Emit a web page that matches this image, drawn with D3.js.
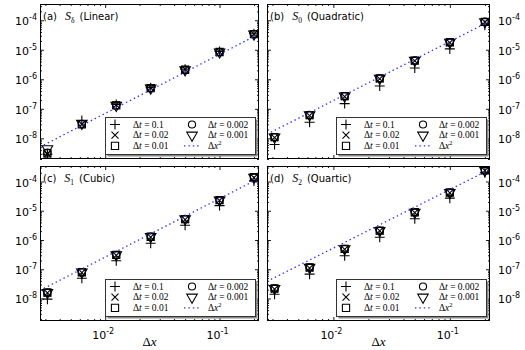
<!DOCTYPE html>
<html>
<head>
<meta charset="utf-8">
<script src="https://cdn.jsdelivr.net/npm/d3@7"></script>
<style>
  body { margin: 0; background: #fff; }
  svg { display: block; }
</style>
</head>
<body>
<svg id="chart" width="525" height="350"></svg>
<script>
// ======== Data ========
const dx = [0.003125, 0.00625, 0.0125, 0.025, 0.05, 0.1, 0.2];
const dtValues = ['0.1', '0.02', '0.01', '0.002', '0.001'];
const markerTypes = ['plus', 'cross', 'square', 'circle', 'triangle'];

// rows = dt (0.1, 0.02, 0.01, 0.002, 0.001), columns = dx
const errLinear = [
    [2.9e-9, 4.0e-8, 1.40e-7, 5.2e-7, 2.20e-6, 8.7e-6, 3.5e-5],
    [3.0e-9, 3.0e-8, 1.35e-7, 5.1e-7, 2.15e-6, 8.5e-6, 3.4e-5],
    [3.1e-9, 3.0e-8, 1.30e-7, 5.0e-7, 2.10e-6, 8.4e-6, 3.4e-5],
    [3.3e-9, 3.1e-8, 1.30e-7, 5.0e-7, 2.10e-6, 8.4e-6, 3.4e-5],
    [4.4e-9, 3.2e-8, 1.30e-7, 5.0e-7, 2.10e-6, 8.4e-6, 3.4e-5]
];
const errQuadratic = [
    [6.2e-9, 3.5e-8, 1.5e-7, 5.9e-7, 2.40e-6, 1.07e-5, 6.8e-5],
    [1.05e-8, 5.9e-8, 2.6e-7, 1.04e-6, 4.20e-6, 1.75e-5, 8.6e-5],
    [1.1e-8, 6.1e-8, 2.7e-7, 1.07e-6, 4.30e-6, 1.80e-5, 8.8e-5],
    [1.1e-8, 6.2e-8, 2.7e-7, 1.08e-6, 4.35e-6, 1.80e-5, 8.9e-5],
    [1.1e-8, 6.2e-8, 2.7e-7, 1.08e-6, 4.35e-6, 1.80e-5, 8.9e-5]
];
const errCubic = [
    [9.5e-9, 4.9e-8, 1.95e-7, 7.7e-7, 3.20e-6, 1.50e-5, 1.05e-4],
    [1.55e-8, 7.7e-8, 3.0e-7, 1.25e-6, 5.00e-6, 2.25e-5, 1.35e-4],
    [1.6e-8, 7.9e-8, 3.1e-7, 1.29e-6, 5.20e-6, 2.30e-5, 1.40e-4],
    [1.6e-8, 8.0e-8, 3.1e-7, 1.30e-6, 5.25e-6, 2.30e-5, 1.40e-4],
    [1.6e-8, 8.0e-8, 3.1e-7, 1.30e-6, 5.25e-6, 2.30e-5, 1.40e-4]
];
const errQuartic = [
    [1.4e-8, 6.8e-8, 2.9e-7, 1.24e-6, 5.3e-6, 2.7e-5, 2.00e-4],
    [2.1e-8, 1.10e-7, 4.8e-7, 2.05e-6, 8.7e-6, 4.1e-5, 2.35e-4],
    [2.2e-8, 1.15e-7, 5.0e-7, 2.10e-6, 8.9e-6, 4.2e-5, 2.40e-4],
    [2.2e-8, 1.15e-7, 5.0e-7, 2.10e-6, 8.9e-6, 4.2e-5, 2.40e-4],
    [2.2e-8, 1.15e-7, 5.0e-7, 2.10e-6, 8.9e-6, 4.2e-5, 2.40e-4]
];

// coefficient C of the reference line C * dx^2
const refCoef = [7.0e-4, 1.9e-3, 2.6e-3, 5.3e-3];

const panelTags = ['(a)', '(b)', '(c)', '(d)'];
const panelSubs = ['δ', '0', '1', '2'];
const panelNames = ['(Linear)', '(Quadratic)', '(Cubic)', '(Quartic)'];

const xLimits = [Math.pow(10, -2.57), Math.pow(10, -0.655)];
const yLimitsTop = [Math.pow(10, -8.7), Math.pow(10, -3.45)];
const yLimitsBottom = [Math.pow(10, -8.77), Math.pow(10, -3.47)];

// ======== Layout ========
const panels = [
    {err: errLinear,    x0: 40,  x1: 259, y0: 4,   y1: 159, right: false, xlab: false, ylim: yLimitsTop},
    {err: errQuadratic, x0: 267, x1: 490, y0: 4,   y1: 159, right: true,  xlab: false, ylim: yLimitsTop},
    {err: errCubic,     x0: 40,  x1: 259, y0: 166, y1: 321, right: false, xlab: true,  ylim: yLimitsBottom},
    {err: errQuartic,   x0: 267, x1: 490, y0: 166, y1: 321, right: true,  xlab: true,  ylim: yLimitsBottom}
];

const svg = d3.select('#chart');
const sansFont = 'DejaVu Sans, sans-serif';
const serifFont = 'Liberation Serif, DejaVu Serif, serif';

function markerPath(type) {
    if (type === 'plus') return 'M-5,0H5M0,-5V5';
    if (type === 'cross') return 'M-3.5,-3.5L3.5,3.5M-3.5,3.5L3.5,-3.5';
    if (type === 'square') return 'M-3.6,-3.6H3.6V3.6H-3.6Z';
    if (type === 'circle') return d3.symbol().type(d3.symbolCircle).size(40)();
    return d3.symbol().type(d3.symbolTriangle).size(48)();
}

function drawMarker(g, type, x, y) {
    g.append('path')
        .attr('d', markerPath(type))
        .attr('transform', 'translate(' + x + ',' + y + ')' + (type === 'triangle' ? ' rotate(180)' : ''))
        .attr('fill', 'none')
        .attr('stroke', '#000')
        .attr('stroke-width', 1.1);
}

function decadeLabel(sel, exp) {
    sel.append('tspan').text('10');
    sel.append('tspan').attr('font-size', 8).attr('dy', -5).text('-' + Math.abs(exp));
}

panels.forEach(function (p, pi) {
    const x = d3.scaleLog().domain(xLimits).range([p.x0, p.x1]);
    const y = d3.scaleLog().domain(p.ylim).range([p.y1, p.y0]);
    const g = svg.append('g');

    const clipId = 'clip' + pi;
    g.append('clipPath').attr('id', clipId)
        .append('rect')
        .attr('x', p.x0).attr('y', p.y0)
        .attr('width', p.x1 - p.x0).attr('height', p.y1 - p.y0);

    // ---- ticks (inward, all four sides) ----
    const xAll = x.ticks(20);
    const xMajor = xAll.filter(v => Math.abs(Math.log10(v) - Math.round(Math.log10(v))) < 1e-6);
    const xMinor = xAll.filter(v => xMajor.indexOf(v) < 0);
    const yAll = y.ticks(40);
    const yMajor = yAll.filter(v => Math.abs(Math.log10(v) - Math.round(Math.log10(v))) < 1e-6);
    const yMinor = yAll.filter(v => yMajor.indexOf(v) < 0);

    const axes = [
        [d3.axisBottom, x, 'translate(0,' + p.y1 + ')', xMajor, xMinor],
        [d3.axisTop, x, 'translate(0,' + p.y0 + ')', xMajor, xMinor],
        [d3.axisLeft, y, 'translate(' + p.x0 + ',0)', yMajor, yMinor],
        [d3.axisRight, y, 'translate(' + p.x1 + ',0)', yMajor, yMinor]
    ];
    axes.forEach(function (a) {
        [[a[3], 4], [a[4], 2]].forEach(function (t) {
            const ax = g.append('g')
                .attr('transform', a[2])
                .call(a[0](a[1]).tickValues(t[0]).tickSize(-t[1]).tickFormat(''));
            ax.select('.domain').remove();
            ax.selectAll('line').attr('stroke', '#000').attr('stroke-width', 0.9);
        });
    });

    // ---- y tick labels ----
    yMajor.forEach(function (v) {
        const t = g.append('text')
            .attr('x', p.right ? p.x1 + 8 : p.x0 - 3)
            .attr('y', y(v) + 5)
            .attr('text-anchor', p.right ? 'start' : 'end')
            .attr('font-family', sansFont)
            .attr('font-size', 11)
            .attr('fill', '#000');
        decadeLabel(t, Math.round(Math.log10(v)));
    });

    // ---- x tick labels + axis label ----
    if (p.xlab) {
        xMajor.forEach(function (v) {
            const t = g.append('text')
                .attr('x', x(v) - 2)
                .attr('y', p.y1 + 18)
                .attr('text-anchor', 'middle')
                .attr('font-family', sansFont)
                .attr('font-size', 11)
                .attr('fill', '#000');
            decadeLabel(t, Math.round(Math.log10(v)));
        });
        const xl = g.append('text')
            .attr('x', (p.x0 + p.x1) / 2)
            .attr('y', p.y1 + 25)
            .attr('text-anchor', 'middle')
            .attr('font-family', serifFont)
            .attr('font-size', 13)
            .attr('fill', '#000');
        xl.append('tspan').text('Δ');
        xl.append('tspan').attr('font-style', 'italic').text('x');
    }

    // ---- data markers ----
    const plot = g.append('g').attr('clip-path', 'url(#' + clipId + ')');
    p.err.forEach(function (row, di) {
        row.forEach(function (v, j) {
            drawMarker(plot, markerTypes[di], x(dx[j]), y(v));
        });
    });

    // ---- reference line C*dx^2 ----
    const ref = xLimits.map(v => [v, refCoef[pi] * v * v]);
    plot.append('path')
        .attr('d', d3.line().x(d => x(d[0])).y(d => y(d[1]))(ref))
        .attr('fill', 'none')
        .attr('stroke', '#2a2aff')
        .attr('stroke-width', 1.3)
        .attr('stroke-dasharray', '1.4,3');

    // ---- frame ----
    g.append('rect')
        .attr('x', p.x0 + 0.5).attr('y', p.y0 + 0.5)
        .attr('width', p.x1 - p.x0 - 1).attr('height', p.y1 - p.y0 - 1)
        .attr('fill', 'none').attr('stroke', '#000').attr('stroke-width', 1);

    // ---- panel title ----
    const title = g.append('text')
        .attr('x', p.x0 + 3)
        .attr('y', p.y0 + 16)
        .attr('font-family', sansFont)
        .attr('font-size', 10)
        .attr('fill', '#000');
    title.append('tspan').text(panelTags[pi]);
    title.append('tspan').attr('dx', 8).attr('font-family', serifFont)
        .attr('font-style', 'italic').attr('font-size', 12).text('S');
    title.append('tspan').attr('dy', 3).attr('font-family', serifFont)
        .attr('font-size', 7.5).text(panelSubs[pi]);
    title.append('tspan').attr('dy', -3).attr('dx', 5).text(panelNames[pi]);

    // ---- legend ----
    const lw = 150, lh = 37;
    const lx = p.x1 - 4 - lw, ly = p.y1 - 5 - lh;
    const leg = g.append('g');
    leg.append('rect')
        .attr('x', lx + 2.5).attr('y', ly + 2.5).attr('width', lw).attr('height', lh)
        .attr('fill', '#888');
    leg.append('rect')
        .attr('x', lx + 0.5).attr('y', ly + 0.5).attr('width', lw).attr('height', lh)
        .attr('fill', '#fff').attr('stroke', '#333').attr('stroke-width', 1);

    const entries = dtValues.map((d, i) => ({type: markerTypes[i], dt: d}));
    entries.push({type: 'line'});
    entries.forEach(function (e, i) {
        const col = Math.floor(i / 3), row = i % 3;
        const mx = lx + 10 + col * 77;
        const my = ly + 7.5 + row * 10.7;
        const tx = lx + 28 + col * 75;
        if (e.type === 'line') {
            leg.append('line')
                .attr('x1', mx - 8).attr('x2', mx + 8)
                .attr('y1', my).attr('y2', my)
                .attr('stroke', '#2a2aff').attr('stroke-width', 1.3)
                .attr('stroke-dasharray', '1.4,3');
        } else {
            drawMarker(leg, e.type, mx, my);
        }
        const t = leg.append('text')
            .attr('x', tx).attr('y', my + 3.2)
            .attr('font-family', serifFont)
            .attr('font-size', 9.5)
            .attr('fill', '#000');
        t.append('tspan').text('Δ');
        if (e.type === 'line') {
            t.append('tspan').attr('font-style', 'italic').text('x');
            t.append('tspan').attr('font-size', 6.5).attr('dy', -4).text('2');
        } else {
            t.append('tspan').attr('font-style', 'italic').text('t');
            t.append('tspan').text(' = ' + e.dt);
        }
    });
});
</script>
</body>
</html>
